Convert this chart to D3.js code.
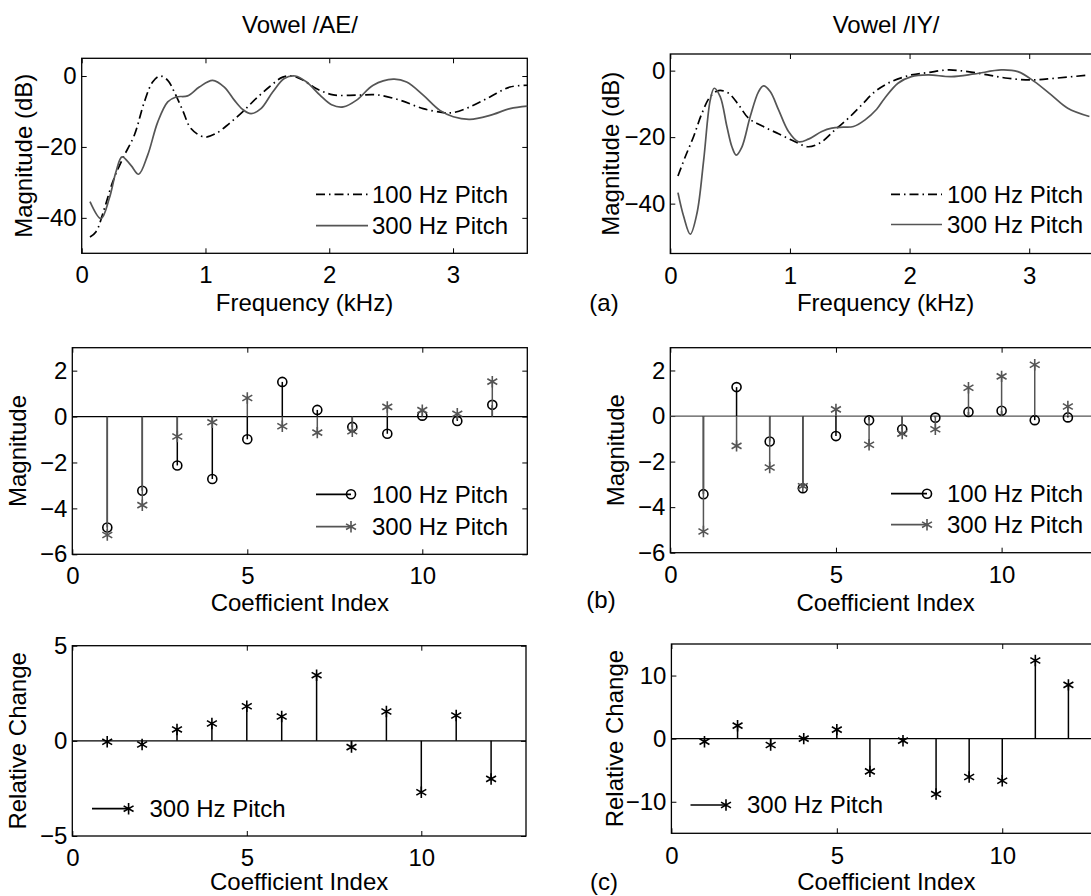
<!DOCTYPE html>
<html>
<head>
<meta charset="utf-8">
<script src="https://cdn.jsdelivr.net/npm/d3@7"></script>
<style>
  body { margin: 0; background: #fff; }
  svg { display: block; font-family: "Liberation Sans", Arial, sans-serif; font-size: 24px; }
</style>
</head>
<body>
<div id="fig"></div>
<script>
// Spectral envelopes, vowel /AE/ (kHz, dB)
const aeFreq100 = [0.067,0.116,0.183,0.25,0.331,0.425,0.506,0.573,0.632,0.695,0.748,0.816,0.883,0.99,1.085,1.192,1.3,1.408,1.515,1.624,1.704,1.79,1.898,2.032,2.221,2.383,2.571,2.759,2.921,3.002,3.137,3.298,3.46,3.6];
const aeMag100 = [-45.4,-43.9,-37.4,-29.9,-23.3,-16.7,-7.3,-1.7,0,-1.2,-4.5,-9.7,-14.8,-17.2,-16.2,-13.4,-10.1,-6.4,-3.1,-0.3,0,-1.2,-3.6,-5.3,-5.4,-5.3,-6.8,-9.2,-10.3,-10.3,-8.7,-5.9,-3.1,-2.6];
const aeFreq300 = [0.067,0.156,0.223,0.277,0.326,0.398,0.46,0.533,0.614,0.695,0.762,0.856,0.95,1.058,1.152,1.233,1.3,1.368,1.448,1.543,1.637,1.725,1.817,1.925,2.019,2.113,2.221,2.355,2.517,2.625,2.759,2.894,3.002,3.137,3.298,3.46,3.6];
const aeMag300 = [-35.4,-40.2,-34.5,-27,-22.8,-25.2,-27.7,-22.3,-13,-7.3,-5.9,-5.6,-3.1,-1.2,-3.1,-6.8,-9.4,-10.6,-9.2,-4.5,-0.7,0,-1.7,-5.4,-8.1,-8.7,-6.8,-2.6,-0.9,-1.7,-5.4,-9.7,-11.5,-12.2,-11.1,-9.2,-8.5];

// Spectral envelopes, vowel /IY/
const iyFreq100 = [0.064,0.125,0.195,0.265,0.334,0.404,0.487,0.571,0.654,0.765,0.905,1.043,1.155,1.266,1.377,1.489,1.6,1.711,1.848,2.015,2.154,2.32,2.487,2.654,2.821,3.017,3.212,3.503];
const iyMag100 = [-31.7,-25.9,-19.8,-12.8,-7.8,-6.0,-6.8,-10.3,-14.3,-16.6,-19.0,-21.4,-22.9,-21.4,-17.8,-14.3,-10.3,-6.3,-3.3,-1.3,-0.6,0.2,-0.3,-1.3,-2.3,-2.8,-2.3,-1.3];
const iyFreq300 = [0.064,0.112,0.167,0.223,0.279,0.334,0.367,0.417,0.473,0.515,0.551,0.599,0.668,0.738,0.779,0.835,0.905,0.988,1.072,1.155,1.266,1.35,1.447,1.531,1.628,1.725,1.792,1.903,2.015,2.154,2.349,2.543,2.766,2.905,3.044,3.184,3.322,3.503];
const iyMag300 = [-36.7,-43.9,-49.2,-42.9,-26.9,-8.8,-5.3,-7.8,-16.8,-22.9,-25.4,-22.9,-13.8,-6.3,-4.6,-6.3,-11.8,-18.3,-21.4,-20.6,-18.3,-17.3,-17.0,-16.8,-14.8,-11.6,-8.3,-3.8,-1.8,-1.3,-1.8,-1.0,0.2,-0.3,-3.3,-7.3,-11.3,-13.8];

// Cepstral coefficients
const coefIndex = [1,2,3,4,5,6,7,8,9,10,11,12];
const aeCep100 = [-4.83,-3.23,-2.13,-2.72,-0.99,1.51,0.29,-0.45,-0.75,0.04,-0.19,0.51];
const aeCep300 = [-5.16,-3.86,-0.87,-0.25,0.81,-0.42,-0.70,-0.64,0.42,0.28,0.12,1.52];
const iyCep100 = [-3.43,1.27,-1.12,-3.17,-0.88,-0.19,-0.58,-0.07,0.18,0.23,-0.18,-0.06];
const iyCep300 = [-5.07,-1.31,-2.26,-3.08,0.29,-1.26,-0.77,-0.58,1.24,1.74,2.25,0.42];

// Relative change of the coefficients
const aeRel = [-0.05,-0.19,0.60,0.91,1.82,1.28,3.45,-0.33,1.54,-2.70,1.33,-2.00];
const iyRel = [-0.48,2.06,-1.0,0.0,1.43,-5.19,-0.32,-8.78,-6.08,-6.67,12.38,8.52];

// Tick values and labels
const freqTicks = [0,1,2,3];
const coefTicks = [0,5,10];
const aeDbTicks = [-40,-20,0];
const iyDbTicks = [-40,-20,0];
const cepTicks = [-6,-4,-2,0,2];
const aeRelTicks = [-5,0,5];
const iyRelTicks = [-10,0,10];
const seriesNames = ['100 Hz Pitch', '300 Hz Pitch'];

const GRAY = '#555';
const svg = d3.select('#fig').append('svg').attr('width', 1091).attr('height', 896);

function cleanAxis(sel) {
	sel.select('.domain').remove();
	sel.attr('font-size', null).attr('font-family', null);
	sel.selectAll('line').attr('stroke', '#000').attr('stroke-width', 1);
	sel.selectAll('text').attr('fill', '#000');
}

// draws box, inward ticks on all 4 sides and the tick labels
function makePanel(p) {
	const x = d3.scaleLinear().domain(p.xDomain).range([p.left, p.right]);
	const y = d3.scaleLinear().domain(p.yDomain).range([p.bottom, p.top]);
	const g = svg.append('g');
	const fmt = d3.format('d');

	g.append('g')
		.attr('transform', `translate(0,${p.bottom})`)
		.call(d3.axisBottom(x).tickValues(p.xTicks).tickSize(-5).tickPadding(p.xPad).tickFormat(fmt))
		.call(cleanAxis);
	g.append('g')
		.attr('transform', `translate(0,${p.top})`)
		.call(d3.axisTop(x).tickValues(p.xTicks).tickSize(-5).tickFormat(''))
		.call(cleanAxis);
	g.append('g')
		.attr('transform', `translate(${p.left},0)`)
		.call(d3.axisLeft(y).tickValues(p.yTicks).tickSize(-5).tickPadding(5).tickFormat(fmt))
		.call(cleanAxis);
	g.append('g')
		.attr('transform', `translate(${p.right},0)`)
		.call(d3.axisRight(y).tickValues(p.yTicks).tickSize(-5).tickFormat(''))
		.call(cleanAxis);

	g.append('rect')
		.attr('x', p.left).attr('y', p.top)
		.attr('width', p.right - p.left).attr('height', p.bottom - p.top)
		.attr('fill', 'none').attr('stroke', '#000').attr('stroke-width', 1.3);

	// axis labels
	g.append('text')
		.attr('x', (p.left + p.right) / 2).attr('y', p.xLabelY).attr('dy', '0.35em')
		.attr('text-anchor', 'middle').text(p.xLabel);
	g.append('text')
		.attr('transform', `translate(${p.yLabelX},${(p.top + p.bottom) / 2}) rotate(-90)`)
		.attr('dy', '0.35em').attr('text-anchor', 'middle').text(p.yLabel);

	return { g, x, y };
}

function drawCurve(pn, xs, ys, color, dash) {
	const line = d3.line()
		.x((d, i) => pn.x(xs[i]))
		.y(d => pn.y(d))
		.curve(d3.curveCatmullRom.alpha(0.5));
	pn.g.append('path')
		.datum(ys)
		.attr('d', line)
		.attr('fill', 'none')
		.attr('stroke', color)
		.attr('stroke-width', 1.7)
		.attr('stroke-dasharray', dash);
}

function markerPath(type) {
	return type === 'o' ? d3.symbol(d3.symbolCircle, 64)() : d3.symbol(d3.symbolAsterisk, 92)();
}

function drawStems(pn, values, color, type) {
	const gs = pn.g.append('g');
	gs.selectAll('line').data(values).join('line')
		.attr('x1', (d, i) => pn.x(coefIndex[i])).attr('x2', (d, i) => pn.x(coefIndex[i]))
		.attr('y1', pn.y(0)).attr('y2', d => pn.y(d))
		.attr('stroke', color).attr('stroke-width', 1.5);
	gs.selectAll('path').data(values).join('path')
		.attr('transform', (d, i) => `translate(${pn.x(coefIndex[i])},${pn.y(d)})`)
		.attr('d', markerPath(type))
		.attr('fill', 'none').attr('stroke', color).attr('stroke-width', 1.6);
}

function baseline(pn, color) {
	const [x0, x1] = pn.x.range();
	pn.g.append('line')
		.attr('x1', x0).attr('x2', x1).attr('y1', pn.y(0)).attr('y2', pn.y(0))
		.attr('stroke', color).attr('stroke-width', 1.3);
}

function legendItem(x0, x1, y, textX, label, color, dash, type) {
	svg.append('line')
		.attr('x1', x0).attr('x2', x1).attr('y1', y).attr('y2', y)
		.attr('stroke', color).attr('stroke-width', 1.7).attr('stroke-dasharray', dash);
	if (type) {
		svg.append('path')
			.attr('transform', `translate(${x1},${y})`)
			.attr('d', markerPath(type))
			.attr('fill', 'none').attr('stroke', color).attr('stroke-width', 1.6);
	}
	svg.append('text').attr('x', textX).attr('y', y).attr('dy', '0.35em').text(label);
}

const DASHDOT = '9,4,1.5,4';

// ---- row (a): spectral envelopes ----
svg.append('text').attr('x', 300).attr('y', 25).attr('dy', '0.35em').attr('text-anchor', 'middle').text('Vowel /AE/');
svg.append('text').attr('x', 886).attr('y', 25).attr('dy', '0.35em').attr('text-anchor', 'middle').text('Vowel /IY/');

const aL = makePanel({
	left: 81.7, right: 527.3, top: 58.3, bottom: 253.3,
	xDomain: [0, 3.6], yDomain: [-50, 5], xTicks: freqTicks, yTicks: aeDbTicks, xPad: 13,
	xLabel: 'Frequency (kHz)', xLabelY: 303, yLabel: 'Magnitude (dB)', yLabelX: 24
});
drawCurve(aL, aeFreq100, aeMag100, '#000', DASHDOT);
drawCurve(aL, aeFreq300, aeMag300, GRAY, null);
legendItem(316, 368, 194.3, 372, seriesNames[0], '#000', DASHDOT);
legendItem(316, 368, 225.7, 372, seriesNames[1], GRAY, null);

const aR = makePanel({
	left: 670.3, right: 1101, top: 54, bottom: 253.5,
	xDomain: [0, 3.6], yDomain: [-55, 5], xTicks: freqTicks, yTicks: iyDbTicks, xPad: 13,
	xLabel: 'Frequency (kHz)', xLabelY: 303, yLabel: 'Magnitude (dB)', yLabelX: 611
});
drawCurve(aR, iyFreq100, iyMag100, '#000', DASHDOT);
drawCurve(aR, iyFreq300, iyMag300, GRAY, null);
legendItem(891, 942, 194.3, 947, seriesNames[0], '#000', DASHDOT);
legendItem(891, 942, 224.5, 947, seriesNames[1], GRAY, null);
svg.append('text').attr('x', 604).attr('y', 303).attr('dy', '0.35em').attr('text-anchor', 'middle').text('(a)');

// ---- row (b): cepstral coefficients ----
const bL = makePanel({
	left: 72.3, right: 527.3, top: 347.7, bottom: 554.3,
	xDomain: [0, 13], yDomain: [-6, 3], xTicks: coefTicks, yTicks: cepTicks, xPad: 13,
	xLabel: 'Coefficient Index', xLabelY: 603, yLabel: 'Magnitude', yLabelX: 17.5
});
baseline(bL, '#000');
drawStems(bL, aeCep100, '#000', 'o');
drawStems(bL, aeCep300, GRAY, '*');
legendItem(316, 351, 494.3, 372, seriesNames[0], '#000', null, 'o');
legendItem(316, 351, 526.7, 372, seriesNames[1], GRAY, null, '*');

const bR = makePanel({
	left: 670.3, right: 1101, top: 347.7, bottom: 552.7,
	xDomain: [0, 13], yDomain: [-6, 3], xTicks: coefTicks, yTicks: cepTicks, xPad: 13,
	xLabel: 'Coefficient Index', xLabelY: 603, yLabel: 'Magnitude', yLabelX: 616
});
baseline(bR, GRAY);
drawStems(bR, iyCep100, '#000', 'o');
drawStems(bR, iyCep300, GRAY, '*');
legendItem(891, 927, 493.7, 947, seriesNames[0], '#000', null, 'o');
legendItem(891, 927, 524.7, 947, seriesNames[1], GRAY, null, '*');
svg.append('text').attr('x', 601).attr('y', 600).attr('dy', '0.35em').attr('text-anchor', 'middle').text('(b)');

// ---- row (c): relative change ----
const cL = makePanel({
	left: 72.3, right: 526, top: 645.7, bottom: 836,
	xDomain: [0, 13], yDomain: [-5, 5], xTicks: coefTicks, yTicks: aeRelTicks, xPad: 13,
	xLabel: 'Coefficient Index', xLabelY: 882, yLabel: 'Relative Change', yLabelX: 17.5
});
baseline(cL, '#000');
drawStems(cL, aeRel, '#000', '*');
legendItem(92, 128.6, 808.7, 149.5, seriesNames[1], '#000', null, '*');

const cR = makePanel({
	left: 671.4, right: 1101.5, top: 644, bottom: 833.3,
	xDomain: [0, 13], yDomain: [-15, 15], xTicks: coefTicks, yTicks: iyRelTicks, xPad: 14,
	xLabel: 'Coefficient Index', xLabelY: 882, yLabel: 'Relative Change', yLabelX: 614.5
});
baseline(cR, '#000');
drawStems(cR, iyRel, '#000', '*');
legendItem(690.5, 726, 805, 747, seriesNames[1], '#000', null, '*');
svg.append('text').attr('x', 604).attr('y', 882).attr('dy', '0.35em').attr('text-anchor', 'middle').text('(c)');
</script>
</body>
</html>
